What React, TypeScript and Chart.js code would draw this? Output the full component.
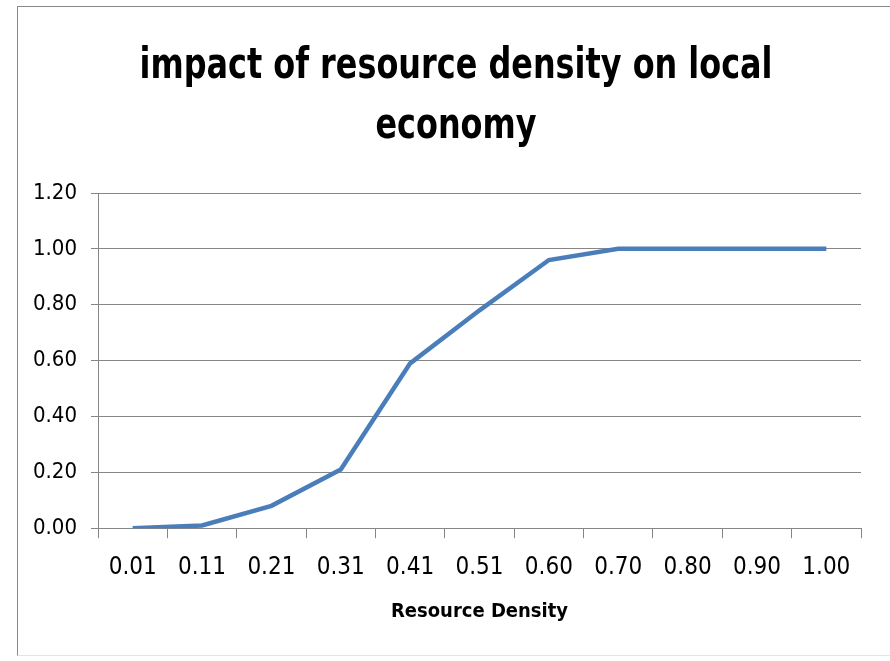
import React, { useEffect, useRef } from "react";
import { Chart, registerables } from "chart.js";

Chart.register(...registerables);

// Resource density categories along the x axis
const densityLabels: string[] = [
  "0.01", "0.11", "0.21", "0.31", "0.41", "0.51", "0.60", "0.70", "0.80", "0.90", "1.00",
];

// Impact on the local economy for each density
const impactValues: number[] = [0.0, 0.01, 0.08, 0.21, 0.59, 0.78, 0.96, 1.0, 1.0, 1.0, 1.0];

const titleLines: string[] = ["impact of resource density on local", "economy"];
const xAxisTitle = "Resource Density";

const FONT = "'Liberation Sans Narrow', 'DejaVu Sans Condensed', 'Liberation Sans', sans-serif";
const GRID = "#868686";

// Title styling: a tall, narrow bold face, drawn line by line
const TITLE_SIZE = 42;
const TITLE_WIDTH = 633;
const TITLE_BASELINES = [71, 131];

const narrowTitle = {
  id: "narrowTitle",
  afterDraw(chart: any) {
    const ctx: CanvasRenderingContext2D = chart.ctx;
    ctx.save();
    ctx.font = `bold ${TITLE_SIZE}px ${FONT}`;
    ctx.fillStyle = "#000000";
    ctx.textAlign = "center";
    ctx.textBaseline = "alphabetic";
    const widest = ctx.measureText(titleLines[0]).width;
    const sx = Math.min(1, TITLE_WIDTH / widest);
    const cx = chart.width / 2 + 2;
    titleLines.forEach((line, i) => {
      ctx.save();
      ctx.translate(cx, TITLE_BASELINES[i]);
      ctx.scale(sx, 1);
      ctx.fillText(line, 0, 0);
      ctx.restore();
    });
    ctx.restore();
  },
};

export default function App() {
  const canvasRef = useRef<HTMLCanvasElement | null>(null);

  useEffect(() => {
    if (!canvasRef.current) return;
    const chart = new Chart(canvasRef.current, {
      type: "line",
      data: {
        labels: densityLabels,
        datasets: [
          {
            label: "impact",
            data: impactValues,
            borderColor: "#4A7EBB",
            backgroundColor: "#4A7EBB",
            borderWidth: 4.5,
            pointRadius: 0,
            tension: 0,
            borderJoinStyle: "miter",
          },
        ],
      },
      plugins: [narrowTitle],
      options: {
        animation: false,
        responsive: false,
        maintainAspectRatio: false,
        layout: { padding: { left: 0, right: 29, top: 186, bottom: 31 } },
        plugins: {
          legend: { display: false },
          tooltip: { enabled: false },
          title: { display: false },
        },
        scales: {
          x: {
            type: "category",
            offset: true,
            border: { display: true, color: GRID, width: 1 },
            grid: {
              offset: true,
              drawOnChartArea: false,
              drawTicks: true,
              tickLength: 10,
              color: GRID,
            },
            ticks: {
              color: "#000000",
              font: { family: FONT, size: 24 },
              padding: 15,
              maxRotation: 0,
              autoSkip: false,
            },
            title: {
              display: true,
              text: xAxisTitle,
              color: "#000000",
              font: { family: FONT, size: 20, weight: "bold" },
              padding: { top: 3, bottom: 0 },
            },
          },
          y: {
            min: 0,
            max: 1.2,
            border: { display: true, color: GRID, width: 1 },
            grid: {
              color: GRID,
              drawTicks: true,
              tickLength: 7,
            },
            ticks: {
              stepSize: 0.2,
              color: "#000000",
              font: { family: FONT, size: 22 },
              padding: 14,
              callback: (v: any) => Number(v).toFixed(2),
            },
            afterFit: (scale: any) => {
              scale.width = 80;
            },
          },
        },
      },
    });
    return () => chart.destroy();
  }, []);

  return (
    <div
      style={{
        position: "absolute",
        left: 17,
        top: 6,
        width: 872,
        height: 648,
        borderLeft: "1px solid #8a8a8a",
        borderTop: "1px solid #8a8a8a",
        borderBottom: "1px solid #e4e4e4",
        background: "#ffffff",
        overflow: "hidden",
      }}
    >
      <canvas ref={canvasRef} width={872} height={648} style={{ display: "block" }} />
    </div>
  );
}
